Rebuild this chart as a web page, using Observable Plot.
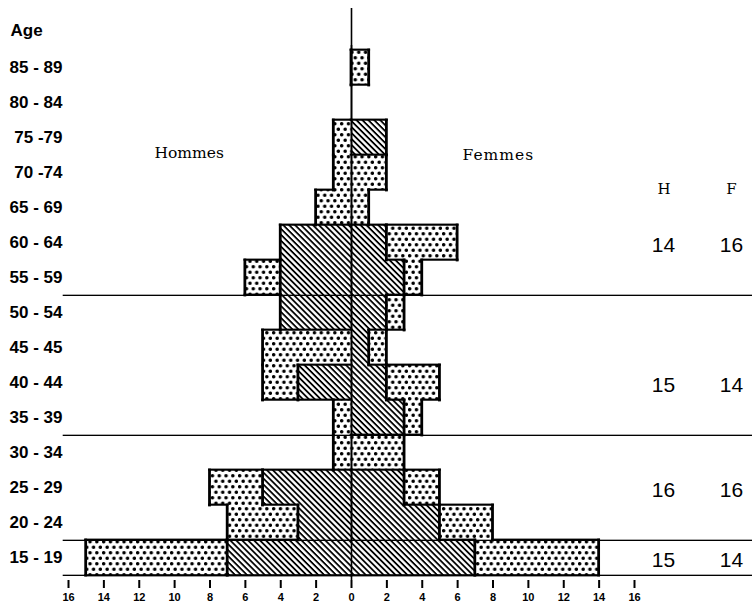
<!DOCTYPE html>
<html>
<head>
<meta charset="utf-8">
<script src="https://cdn.jsdelivr.net/npm/d3@7"></script>
<script src="https://cdn.jsdelivr.net/npm/@observablehq/plot@0.6"></script>
<style>
  html, body { margin: 0; padding: 0; background: #fff; }
  svg { display: block; }
</style>
</head>
<body>
<div id="chart"></div>
<script>
// ---- data ----
const ages = ["85 - 89","80 - 84","75 -79","70 -74","65 - 69","60 - 64","55 - 59",
              "50 - 54","45 - 45","40 - 44","35 - 39","30 - 34","25 - 29","20 - 24","15 - 19"];
const menTotal     = [0, 0, 1, 1, 2, 4, 6, 4, 5, 5, 1, 1, 8, 7, 15];
const menHatched   = [0, 0, 0, 0, 0, 4, 4, 4, 0, 3, 0, 0, 5, 3, 7];
const womenTotal   = [1, 0, 2, 2, 1, 6, 4, 3, 2, 5, 4, 3, 5, 8, 14];
const womenHatched = [0, 0, 2, 0, 0, 2, 3, 2, 1, 2, 3, 0, 3, 5, 7];

const groupRows = ["60 - 64", "40 - 44", "25 - 29", "15 - 19"];
const groupH = [14, 15, 16, 15];
const groupF = [16, 14, 16, 14];
const separatorRows = ["55 - 59", "35 - 39", "20 - 24", "15 - 19"];
const xTicks = [-16, -14, -12, -10, -8, -6, -4, -2, 0, 2, 4, 6, 8, 10, 12, 14, 16];

// ---- layout ----
const W = 752, H = 610, mt = 45, mb = 30, ml = 68, mr = 118;
const bw = (H - mt - mb) / ages.length;
const lw = 2.8;

// ---- derived tables ----
const segs = [];
ages.forEach((age, i) => {
  const mh = menHatched[i], mT = menTotal[i], wh = womenHatched[i], wT = womenTotal[i];
  if (mh > 0) segs.push({age, x1: -mh, x2: 0, p: "h"});
  if (mT > mh) segs.push({age, x1: -mT, x2: -mh, p: "d"});
  if (wh > 0) segs.push({age, x1: 0, x2: wh, p: "h"});
  if (wT > wh) segs.push({age, x1: wh, x2: wT, p: "d"});
});
function pat(i, x) {
  if (i < 0 || i >= ages.length) return null;
  const a = Math.abs(x);
  const h = x < 0 ? menHatched[i] : womenHatched[i];
  const t = x < 0 ? menTotal[i] : womenTotal[i];
  return a < h ? "h" : a < t ? "d" : null;
}
function breaks(i) {
  if (i < 0 || i >= ages.length) return [];
  return [-menTotal[i], -menHatched[i], 0, womenHatched[i], womenTotal[i]];
}
const eps = 1e-6;
// vertical edges
const vEdges = [];
ages.forEach((age, i) => {
  const cands = Array.from(new Set(breaks(i))).sort((a, b) => a - b);
  for (const c of cands) {
    const l = pat(i, c - eps), r = pat(i, c + eps);
    const draw = c === 0 ? ((l === null) !== (r === null)) : (l !== r);
    if (draw) vEdges.push({age, x: c});
  }
});
// horizontal edges
const hTop = [], hBottom = [];
for (let i = 0; i <= ages.length; i++) {
  const cands = Array.from(new Set([...breaks(i - 1), ...breaks(i)])).sort((a, b) => a - b);
  for (let k = 0; k < cands.length - 1; k++) {
    const a = cands[k], b = cands[k + 1];
    if (b - a < eps) continue;
    const m = (a + b) / 2;
    if (pat(i - 1, m) !== pat(i, m)) {
      if (i < ages.length) hTop.push({age: ages[i], x1: a, x2: b});
      else hBottom.push({age: ages[i - 1], x1: a, x2: b});
    }
  }
}
const groups = groupRows.map((age, i) => ({age, h: groupH[i], f: groupF[i]}));

const chart = Plot.plot({
  width: W, height: H,
  marginTop: mt, marginBottom: mb, marginLeft: ml, marginRight: mr,
  style: {background: "#fff", color: "#000", fontFamily: "'Liberation Sans', Arial, sans-serif"},
  x: {domain: [-16, 16]},
  y: {type: "band", domain: ages, padding: 0},
  marks: [
    // pattern-filled segments
    Plot.barX(segs.filter(d => d.p === "h"), {x1: "x1", x2: "x2", y: "age", fill: "url(#hatch)"}),
    Plot.barX(segs.filter(d => d.p === "d"), {x1: "x1", x2: "x2", y: "age", fill: "url(#dots)"}),
    // centre line
    Plot.ruleX([0], {stroke: "#000", strokeWidth: 1.6}),
    Plot.ruleX([0], {stroke: "#000", strokeWidth: 1.6, dy: -37}),
    // separators of age groups
    Plot.barX(separatorRows, {y: d => d, x1: d => -16.3, x2: d => 23,
      insetTop: bw - 1, insetBottom: -1, fill: "#000"}),
    // outlines of merged shapes
    Plot.barX(vEdges, {x1: "x", x2: "x", y: "age",
      insetLeft: -lw / 2, insetRight: -lw / 2, insetTop: -lw / 2, insetBottom: -lw / 2, fill: "#000"}),
    Plot.barX(hTop, {x1: "x1", x2: "x2", y: "age",
      insetLeft: -lw / 2, insetRight: -lw / 2, insetTop: -lw / 2, insetBottom: bw - lw / 2, fill: "#000"}),
    Plot.barX(hBottom, {x1: "x1", x2: "x2", y: "age",
      insetLeft: -lw / 2, insetRight: -lw / 2, insetTop: bw - lw / 2, insetBottom: -lw / 2, fill: "#000"}),
    // axes
    Plot.axisX(xTicks, {tickFormat: d => Math.abs(d), tickSize: 8, tickPadding: 5,
      fontSize: 11, fontWeight: "bold", strokeWidth: 2, label: null}),
    Plot.axisY({tickSize: 0, tickPadding: 6, fontSize: 17, fontWeight: "bold", label: null}),
    // titles
    Plot.text(["Age"], {text: d => d, frameAnchor: "top-left", dx: 10 - ml, dy: 23 - mt,
      textAnchor: "start", fontSize: 17, fontWeight: "bold"}),
    Plot.text(["Hommes"], {text: d => d, frameAnchor: "top-left", dx: 154 - ml, dy: 146 - mt,
      textAnchor: "start", fontSize: 15.5, fontFamily: "'DejaVu Serif', serif"}),
    Plot.text(["Femmes"], {text: d => d, frameAnchor: "top-left", dx: 462 - ml, dy: 148 - mt,
      textAnchor: "start", fontSize: 15.5, fontFamily: "'DejaVu Serif', serif"}),
    Plot.text(["H"], {text: d => d, frameAnchor: "top-left", dx: 663.5 - ml, dy: 182.5 - mt,
      textAnchor: "middle", fontSize: 15, fontFamily: "'DejaVu Serif', serif"}),
    Plot.text(["F"], {text: d => d, frameAnchor: "top-left", dx: 731 - ml, dy: 182.5 - mt,
      textAnchor: "middle", fontSize: 15, fontFamily: "'DejaVu Serif', serif"}),
    // group totals
    Plot.text(groups, {y: "age", text: "h", frameAnchor: "left", dx: 663 - ml, dy: 2,
      textAnchor: "middle", fontSize: 21}),
    Plot.text(groups, {y: "age", text: "f", frameAnchor: "left", dx: 731 - ml, dy: 2,
      textAnchor: "middle", fontSize: 21})
  ]
});

// pattern definitions
const defs = d3.create("svg:defs");
const dw = 6.8, dh = 11;
const dots = defs.append("pattern").attr("id", "dots").attr("patternUnits", "userSpaceOnUse")
  .attr("width", dw).attr("height", dh);
dots.append("rect").attr("width", dw).attr("height", dh).attr("fill", "#fff");
dots.append("circle").attr("cx", dw / 4).attr("cy", dh / 4).attr("r", 1.75).attr("fill", "#000");
dots.append("circle").attr("cx", dw * 3 / 4).attr("cy", dh * 3 / 4).attr("r", 1.75).attr("fill", "#000");
const hatch = defs.append("pattern").attr("id", "hatch").attr("patternUnits", "userSpaceOnUse")
  .attr("width", 10).attr("height", 4.2).attr("patternTransform", "rotate(45)");
hatch.append("rect").attr("width", 10).attr("height", 4.2).attr("fill", "#fff");
hatch.append("rect").attr("width", 10).attr("height", 1.8).attr("fill", "#000");
chart.insertBefore(defs.node(), chart.firstChild);

d3.select(chart).selectAll("text").filter(function () { return this.textContent === "Femmes"; })
  .attr("letter-spacing", 1);

document.getElementById("chart").appendChild(chart);
</script>
</body>
</html>
